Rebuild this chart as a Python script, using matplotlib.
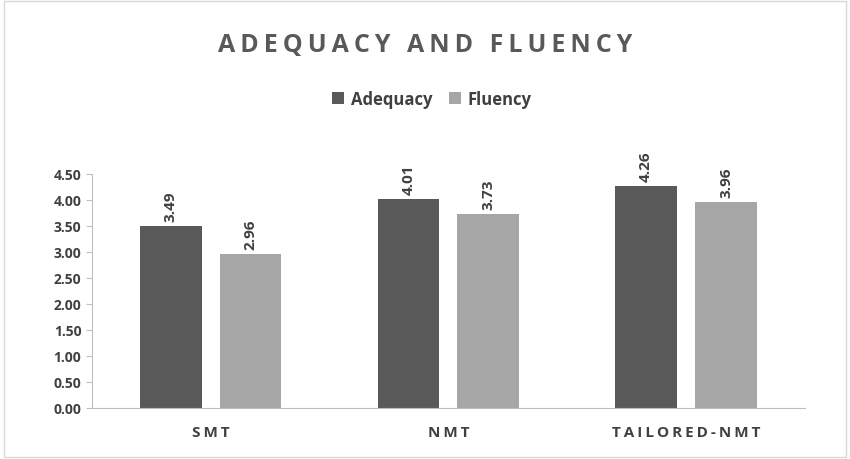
import matplotlib
matplotlib.use("Agg")
import matplotlib.pyplot as plt
import numpy as np
from matplotlib.patches import Rectangle

categories = ["SMT", "NMT", "TAILORED-NMT"]
adequacy = [3.49, 4.01, 4.26]
fluency = [2.96, 3.73, 3.96]
yticks = [0.0, 0.5, 1.0, 1.5, 2.0, 2.5, 3.0, 3.5, 4.0, 4.5]

def spaced(s):
    return "\u2009".join(s)

plt.rcParams['font.family'] = ['Open Sans', 'DejaVu Sans']
fig = plt.figure(figsize=(8.5, 4.6), dpi=100)
fig.patches.append(Rectangle((0.005, 0.005), 0.99, 0.99, transform=fig.transFigure,
                             fill=False, edgecolor='#d9d9d9', lw=1))
ax = fig.add_axes([0.108, 0.111, 0.839, 0.509])
x = np.arange(len(categories))
w = 0.26
off = 0.168
dark, light = '#595959', '#a6a6a6'
b1 = ax.bar(x - off, adequacy, w, color=dark, label='Adequacy')
b2 = ax.bar(x + off, fluency, w, color=light, label='Fluency')
for bars, vals in ((b1, adequacy), (b2, fluency)):
    for b, v in zip(bars, vals):
        ax.text(b.get_x() + b.get_width() / 2, v + 0.1, f"{v:.2f}", rotation=90,
                ha='center', va='bottom', fontsize=11, fontweight='bold', color='#404040')
ax.set_xlim(-0.5, 2.5)
ax.set_ylim(0, 4.5)
ax.set_yticks(yticks)
ax.set_yticklabels([f"{t:.2f}" for t in yticks], fontsize=10, color='#404040',
                   fontweight='bold')
ax.set_xticks(x)
ax.set_xticklabels([spaced(c) for c in categories], fontsize=11, fontweight='bold',
                   color='#404040')
ax.tick_params(axis='x', length=0, pad=12)
ax.tick_params(axis='y', length=4, color='#bfbfbf')
for s in ['top', 'right']:
    ax.spines[s].set_visible(False)
for s in ['left', 'bottom']:
    ax.spines[s].set_color('#bfbfbf')
fig.text(0.5, 0.9, spaced("ADEQUACY AND FLUENCY"), ha='center', va='center', fontsize=18,
         fontweight='bold', color='#595959')
fig.legend(handles=[b1, b2], loc='center', bbox_to_anchor=(0.508, 0.783), ncol=2,
           frameon=False, prop={'size': 12, 'weight': 'bold'}, handlelength=0.7,
           handleheight=0.7, columnspacing=1.0, handletextpad=0.4, labelcolor='#404040')
fig.savefig("out.png", dpi=100)
